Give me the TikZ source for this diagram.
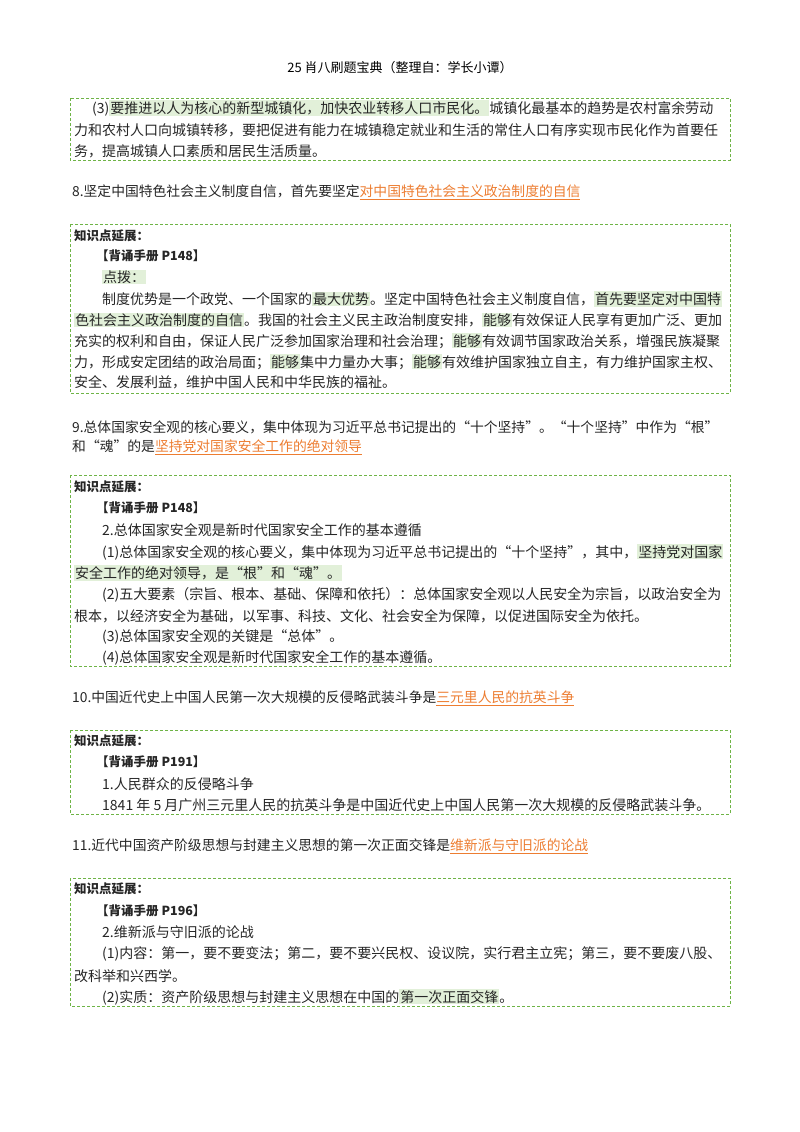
\documentclass[tikz,border=0pt]{standalone}
\usepackage{fontspec}
\setmainfont{Noto Sans CJK SC}
\usetikzlibrary{positioning}
\definecolor{boxgreen}{RGB}{110,180,70}
\definecolor{hlgreen}{RGB}{226,240,217}
\definecolor{linkorange}{RGB}{237,125,49}
\newcommand{\hl}[1]{{\setlength{\fboxsep}{1pt}\colorbox{hlgreen}{#1}}}
\newcommand{\ans}[1]{\textcolor{linkorange}{\underline{#1}}}
\tikzset{
  txt/.style={anchor=west, inner sep=0pt, font=\fontsize{14}{16}\selectfont, text=black!85},
  item/.style={txt, font=\fontsize{13.8}{16}\selectfont},
  head/.style={txt, font=\fontsize{12.5}{14}\selectfont\bfseries},
  kbox/.style={draw=boxgreen, densely dashed, line width=0.7pt}
}
\begin{document}
\begin{tikzpicture}[x=1pt, y=-1pt]
    \useasboundingbox[fill=white] (0,0) rectangle (800,1132);

    % Title
    \node[inner sep=0pt, font=\fontsize{13}{14}\selectfont] (title) at (400,68) {25 肖八刷题宝典（整理自：学长小谭）};

    % Box 1
    \draw[kbox] (70,98) rectangle (730,160);
    \node[txt] (b1a) at (92,108) {(3)\hl{要推进以人为核心的新型城镇化，加快农业转移人口市民化。}城镇化最基本的趋势是农村富余劳动};
    \node[txt] (b1b) at (74,130) {力和农村人口向城镇转移，要把促进有能力在城镇稳定就业和生活的常住人口有序实现市民化作为首要任};
    \node[txt] (b1c) at (74,151) {务，提高城镇人口素质和居民生活质量。};

    % Question 8
    \node[item] (q8) at (72,192) {8.坚定中国特色社会主义制度自信，首先要坚定\ans{对中国特色社会主义政治制度的自信}};

    % Box 2
    \draw[kbox] (70,224) rectangle (730,393);
    \node[head] (b2h) at (74,236) {知识点延展：};
    \node[head] (b2r) at (96,256) {【背诵手册 P148】};
    \node[txt] (b2d) at (102,277) {\hl{点拨：}};
    \node[txt] (b2a) at (102,299) {制度优势是一个政党、一个国家的\hl{最大优势}。坚定中国特色社会主义制度自信，\hl{首先要坚定对中国特}};
    \node[txt] (b2b) at (74,320) {\hl{色社会主义政治制度的自信}。我国的社会主义民主政治制度安排，\hl{能够}有效保证人民享有更加广泛、更加};
    \node[txt] (b2c) at (74,341) {充实的权利和自由，保证人民广泛参加国家治理和社会治理；\hl{能够}有效调节国家政治关系，增强民族凝聚};
    \node[txt] (b2e) at (74,362) {力，形成安定团结的政治局面；\hl{能够}集中力量办大事；\hl{能够}有效维护国家独立自主，有力维护国家主权、};
    \node[txt] (b2f) at (74,382) {安全、发展利益，维护中国人民和中华民族的福祉。};

    % Question 9
    \node[item] (q9a) at (72,427) {9.总体国家安全观的核心要义，集中体现为习近平总书记提出的“十个坚持”。“十个坚持”中作为“根”};
    \node[item] (q9b) at (72,447) {和“魂”的是\ans{坚持党对国家安全工作的绝对领导}};

    % Box 3
    \draw[kbox] (70,475) rectangle (730,666);
    \node[head] (b3h) at (74,487) {知识点延展：};
    \node[head] (b3r) at (96,508) {【背诵手册 P148】};
    \node[txt] (b3a) at (102,530) {2.总体国家安全观是新时代国家安全工作的基本遵循};
    \node[txt] (b3b) at (102,552) {(1)总体国家安全观的核心要义，集中体现为习近平总书记提出的“十个坚持”，其中，\hl{坚持党对国家}};
    \node[txt] (b3c) at (74,573) {\hl{安全工作的绝对领导，是“根”和“魂”。}};
    \node[txt] (b3d) at (102,595) {(2)五大要素（宗旨、根本、基础、保障和依托）：总体国家安全观以人民安全为宗旨，以政治安全为};
    \node[txt] (b3e) at (74,616) {根本，以经济安全为基础，以军事、科技、文化、社会安全为保障，以促进国际安全为依托。};
    \node[txt] (b3f) at (102,637) {(3)总体国家安全观的关键是“总体”。};
    \node[txt] (b3g) at (102,658) {(4)总体国家安全观是新时代国家安全工作的基本遵循。};

    % Question 10
    \node[item] (q10) at (72,698) {10.中国近代史上中国人民第一次大规模的反侵略武装斗争是\ans{三元里人民的抗英斗争}};

    % Box 4
    \draw[kbox] (70,730) rectangle (730,814);
    \node[head] (b4h) at (74,741) {知识点延展：};
    \node[head] (b4r) at (96,762) {【背诵手册 P191】};
    \node[txt] (b4a) at (102,784) {1.人民群众的反侵略斗争};
    \node[txt] (b4b) at (102,805) {1841 年 5 月广州三元里人民的抗英斗争是中国近代史上中国人民第一次大规模的反侵略武装斗争。};

    % Question 11
    \node[item] (q11) at (72,846) {11.近代中国资产阶级思想与封建主义思想的第一次正面交锋是\ans{维新派与守旧派的论战}};

    % Box 5
    \draw[kbox] (70,878) rectangle (730,1006);
    \node[head] (b5h) at (74,889) {知识点延展：};
    \node[head] (b5r) at (96,911) {【背诵手册 P196】};
    \node[txt] (b5a) at (102,932) {2.维新派与守旧派的论战};
    \node[txt] (b5b) at (102,954) {(1)内容：第一，要不要变法；第二，要不要兴民权、设议院，实行君主立宪；第三，要不要废八股、};
    \node[txt] (b5c) at (74,976) {改科举和兴西学。};
    \node[txt] (b5d) at (102,997) {(2)实质：资产阶级思想与封建主义思想在中国的\hl{第一次正面交锋}。};
\end{tikzpicture}
\end{document}
